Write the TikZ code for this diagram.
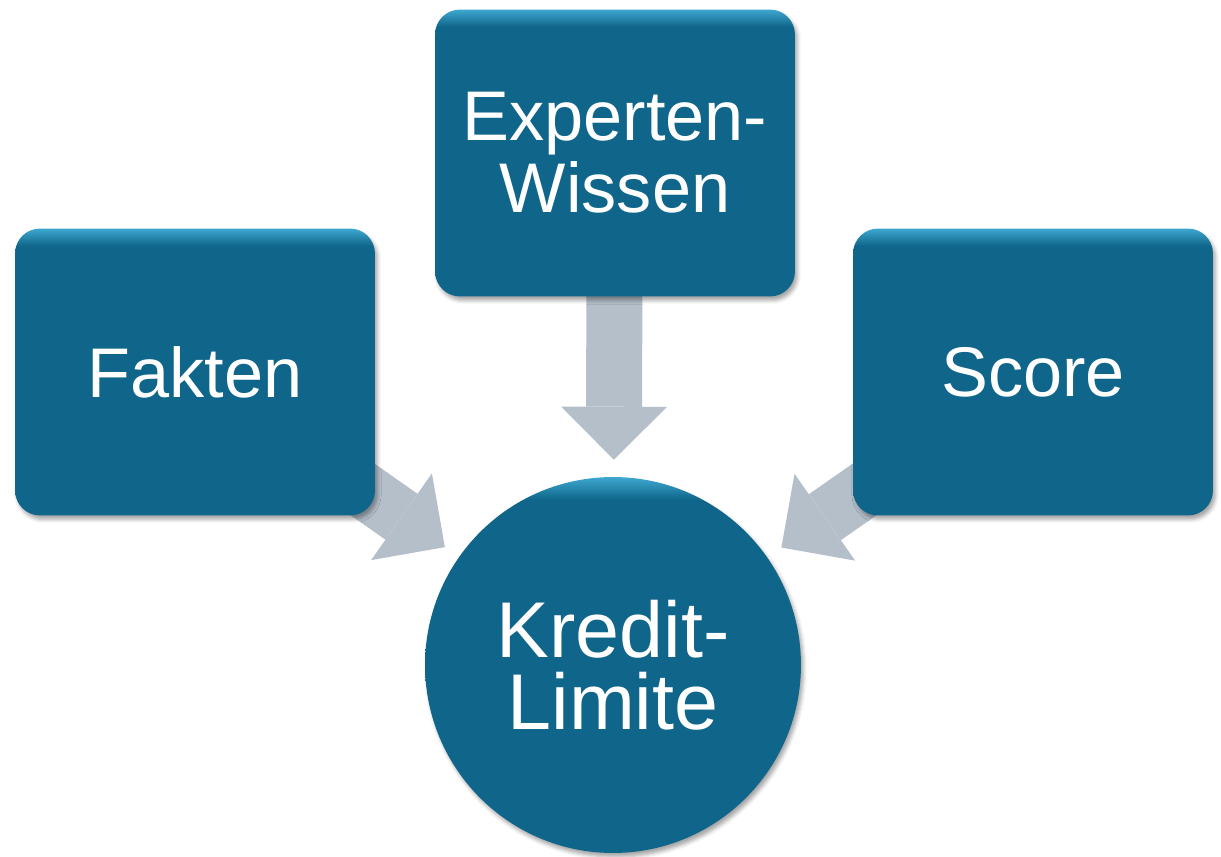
\documentclass[tikz,border=0pt]{standalone}
\usepackage{fontspec}
\setmainfont{Liberation Sans}
\usetikzlibrary{arrows.meta,backgrounds,shadows.blur}

\definecolor{boxblue}{RGB}{16,102,138}
\definecolor{boxlight}{RGB}{62,168,208}
\definecolor{arrowgray}{RGB}{180,191,202}
\pgfdeclareverticalshading{bevel}{100bp}{color(0bp)=(boxblue); color(72bp)=(boxblue); color(75bp)=(boxlight); color(100bp)=(boxlight)}

\tikzset{
  block/.style={rounded corners=0.5cm, minimum width=7.2cm, minimum height=5.74cm,
    shading=bevel, text=white, align=center, font=\fontsize{40}{41}\selectfont,
    blur shadow={shadow xshift=0.05cm, shadow yshift=-0.08cm, shadow opacity=35}},
  goal/.style={circle, minimum size=7.52cm, inner sep=0pt, shading=bevel, text=white,
    align=center, font=\fontsize{45}{41}\selectfont,
    blur shadow={shadow xshift=0.05cm, shadow yshift=-0.08cm, shadow opacity=35}},
  flow/.style={draw=arrowgray, line width=1.12cm, shorten >=0.34cm,
    -{Triangle[width=2.12cm, length=1.06cm, line width=0pt, fill=arrowgray]}}
}

\begin{document}
\begin{tikzpicture}[x=0.02cm, y=-0.02cm]
\useasboundingbox (0,0) rectangle (1221,857);

\node[block] (fakten) at (195,372) {Fakten};
\node[block] (experten) at (615,153) {Experten-\\Wissen};
\node[block] (score) at (1033,372) {Score};
\node[goal] (kredit) at (613,665) {Kredit-\\Limite};

% arrows behind the boxes
\begin{scope}[on background layer]
\foreach \src in {fakten,experten,score} \draw[flow] (\src.center) -- (kredit);
\end{scope}
\end{tikzpicture}
\end{document}
